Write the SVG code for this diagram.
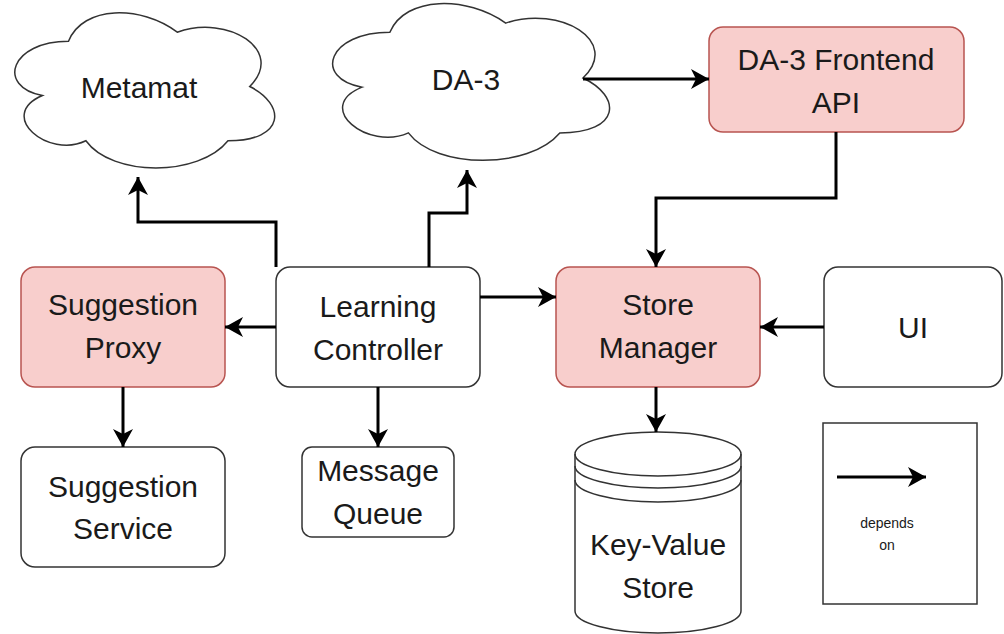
<svg xmlns="http://www.w3.org/2000/svg" width="1004" height="634" viewBox="0 0 1004 634">
<defs>
<marker id="arr" markerUnits="userSpaceOnUse" markerWidth="20" markerHeight="22" refX="18" refY="11" orient="auto" viewBox="0 0 20 22">
<path d="M0,1 L18,11 L0,21 L5,11 Z" fill="#000"/>
</marker>
<style>
.t{font-family:"Liberation Sans",Arial,Helvetica,sans-serif;font-size:30px;fill:#1a1a1a;text-anchor:middle}
.s{font-family:"Liberation Sans",Arial,Helvetica,sans-serif;font-size:14px;fill:#1a1a1a;text-anchor:middle}
.w{fill:#fff;stroke:#333;stroke-width:1.5}
.p{fill:#f8cecc;stroke:#b85450;stroke-width:1.5}
.c{fill:none;stroke:#000;stroke-width:3;marker-end:url(#arr)}
</style>
</defs>
<rect width="1004" height="634" fill="#fff"/>
<g id="metamat">
<path class="w" d="M68.5,41.25 C10.5,41.25 -4,86.5 42.4,95.55 C-4,115.46 48.2,158.9 85.9,140.8 C112,177 199,177 228,140.8 C286,140.8 286,104.6 249.75,86.5 C286,50.3 228,14.1 177.25,32.2 C141,5.05 83,5.05 68.5,41.25 Z"/>
<text class="t" x="139" y="98">Metamat</text>
</g>
<g id="da3">
<path class="w" d="M389.85,32.25 C328.05,32.25 312.6,78 362.04,87.15 C312.6,107.28 368.22,151.2 408.39,132.9 C436.2,169.5 528.9,169.5 559.8,132.9 C621.6,132.9 621.6,96.3 582.975,78 C621.6,41.4 559.8,4.8 505.725,23.1 C467.1,-4.35 405.3,-4.35 389.85,32.25 Z"/>
<text class="t" x="466" y="90">DA-3</text>
</g>
<g id="frontend">
<rect class="p" x="709" y="27" width="255" height="105" rx="14"/>
<text class="t" x="836" y="70">DA-3 Frontend</text>
<text class="t" x="836" y="113">API</text>
</g>
<g id="suggestion-proxy">
<rect class="p" x="21" y="267" width="204" height="120" rx="14"/>
<text class="t" x="123" y="315">Suggestion</text>
<text class="t" x="123" y="358">Proxy</text>
</g>
<g id="learning-controller">
<rect class="w" x="276" y="267" width="204" height="120" rx="14"/>
<text class="t" x="378" y="317">Learning</text>
<text class="t" x="378" y="360">Controller</text>
</g>
<g id="store-manager">
<rect class="p" x="556" y="267" width="204" height="120" rx="14"/>
<text class="t" x="658" y="315">Store</text>
<text class="t" x="658" y="358">Manager</text>
</g>
<g id="ui">
<rect class="w" x="824" y="267" width="178" height="120" rx="14"/>
<text class="t" x="913" y="338">UI</text>
</g>
<g id="suggestion-service">
<rect class="w" x="21" y="447" width="204" height="120" rx="14"/>
<text class="t" x="123" y="497">Suggestion</text>
<text class="t" x="123" y="539">Service</text>
</g>
<g id="message-queue">
<rect class="w" x="302" y="447" width="152" height="90" rx="10"/>
<text class="t" x="378" y="481">Message</text>
<text class="t" x="378" y="524">Queue</text>
</g>
<g id="kv-store">
<path class="w" d="M575,454 A83,22 0 0 1 741,454 V611 A83,22 0 0 1 575,611 Z"/>
<path fill="none" stroke="#333" stroke-width="1.5" d="M575,454 A83,22 0 0 0 741,454 M575,466 A83,22 0 0 0 741,466 M575,480 A83,22 0 0 0 741,480"/>
<text class="t" x="658" y="555">Key-Value</text>
<text class="t" x="658" y="598">Store</text>
</g>
<g id="legend">
<rect x="823" y="423" width="154" height="181" fill="#fff" stroke="#333" stroke-width="1.5"/>
<path class="c" d="M837,477 H926"/>
<text class="s" x="887" y="528">depends</text>
<text class="s" x="887" y="550">on</text>
</g>
<g id="connectors">
<path class="c" d="M276,267 V222 H138 V177"/>
<path class="c" d="M429,267 V213 H467 V170"/>
<path class="c" d="M276,327 H225"/>
<path class="c" d="M480,297 H556"/>
<path class="c" d="M824,327 H760"/>
<path class="c" d="M836,132 V198 H656 V267"/>
<path class="c" d="M123,387 V447"/>
<path class="c" d="M378,387 V447"/>
<path class="c" d="M656,387 V432"/>
<path class="c" d="M583,79 H709"/>
</g>
</svg>
